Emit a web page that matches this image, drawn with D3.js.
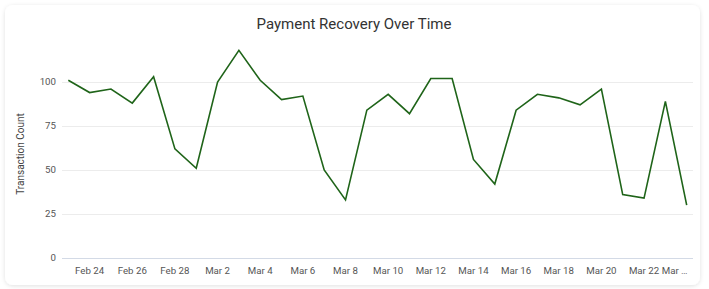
<!DOCTYPE html>
<html>
<head>
<meta charset="utf-8">
<script src="https://cdn.jsdelivr.net/npm/d3@7"></script>
<style>
  body { margin: 0; background: #fff; font-family: Roboto, "Noto Sans", sans-serif; }
  svg text { font-family: Roboto, "Noto Sans", sans-serif; }
</style>
</head>
<body>
<script>
// data (one point per day, 2025)
var startDay = "2025-02-23";
var counts = [101, 94, 96, 88, 103, 62, 51, 100, 118, 101, 90, 92, 50, 33, 84,
              93, 82, 102, 102, 56, 42, 84, 93, 91, 87, 96, 36, 34, 89, 30];
var yTicks = [0, 25, 50, 75, 100];
var titleText = "Payment Recovery Over Time";
var yLabel = "Transaction Count";

var W = 709, H = 289;
var parse = d3.timeParse("%Y-%m-%d");
var t0 = parse(startDay);
var points = counts.map(function (v, i) {
    return { date: d3.timeDay.offset(t0, i), value: v };
});

var svg = d3.select("body").append("svg")
    .attr("width", W)
    .attr("height", H);

// card with soft shadow
var defs = svg.append("defs");
var f = defs.append("filter").attr("id", "shadow")
    .attr("x", "-5%").attr("y", "-5%").attr("width", "110%").attr("height", "110%");
f.append("feDropShadow")
    .attr("dx", 0).attr("dy", 1).attr("stdDeviation", 2)
    .attr("flood-color", "#000").attr("flood-opacity", 0.12);

svg.append("rect")
    .attr("x", 5).attr("y", 5)
    .attr("width", 695).attr("height", 280)
    .attr("rx", 8)
    .attr("fill", "#fff")
    .attr("filter", "url(#shadow)");

var x = d3.scaleTime()
    .domain(d3.extent(points, function (d) { return d.date; }))
    .range([68.3, 686.7]);

var y = d3.scaleLinear()
    .domain([0, 120])
    .range([258, 46.8]);

var gridLeft = 62, gridRight = 693;

// horizontal grid + baseline
svg.append("g").selectAll("line")
    .data(yTicks)
    .enter().append("line")
    .attr("x1", gridLeft).attr("x2", gridRight)
    .attr("y1", function (d) { return Math.round(y(d)) + 0.5; })
    .attr("y2", function (d) { return Math.round(y(d)) + 0.5; })
    .attr("stroke", function (d) { return d === 0 ? "#d3dae6" : "#ececec"; })
    .attr("stroke-width", function (d) { return d === 0 ? 1.2 : 1; });

svg.append("g").selectAll("text")
    .data(yTicks)
    .enter().append("text")
    .attr("x", 56)
    .attr("y", function (d) { return y(d); })
    .attr("dy", "0.35em")
    .attr("text-anchor", "end")
    .attr("font-size", 9.7)
    .attr("fill", "#555")
    .text(function (d) { return d; });

// x labels every 2 days, last one truncated like the original
var xTicks = d3.timeDay.range(d3.timeDay.offset(t0, 1), d3.timeDay.offset(x.domain()[1], 1), 2);
var fmt = d3.timeFormat("%b %-d");
var xLab = svg.append("g").selectAll("text")
    .data(xTicks)
    .enter().append("text")
    .attr("x", function (d) { return x(d); })
    .attr("y", 273.5)
    .attr("text-anchor", "middle")
    .attr("font-size", 9.7)
    .attr("fill", "#555")
    .text(function (d) { return fmt(d); });

var prevEnd = 0;
xLab.each(function (d) {
    var w = this.getComputedTextLength();
    if (x(d) + w / 2 > 690) {
        // no room: shorten and tuck it right after the previous label
        d3.select(this)
            .text(d3.timeFormat("%b")(d) + " \u2026")
            .attr("text-anchor", "start")
            .attr("x", prevEnd + 2.5);
    } else {
        prevEnd = x(d) + w / 2;
    }
});

// the line
var line = d3.line()
    .x(function (d) { return x(d.date); })
    .y(function (d) { return y(d.value); });

svg.append("path")
    .datum(points)
    .attr("d", line)
    .attr("fill", "none")
    .attr("stroke", "#1f6419")
    .attr("stroke-width", 1.6)
    .attr("stroke-linejoin", "miter");

// title and axis label
svg.append("text")
    .attr("x", 354)
    .attr("y", 29)
    .attr("text-anchor", "middle")
    .attr("font-size", 15)
    .attr("fill", "#333")
    .text(titleText);

svg.append("text")
    .attr("transform", "translate(24,154) rotate(-90)")
    .attr("text-anchor", "middle")
    .attr("font-size", 10)
    .attr("fill", "#444")
    .text(yLabel);
</script>
</body>
</html>
